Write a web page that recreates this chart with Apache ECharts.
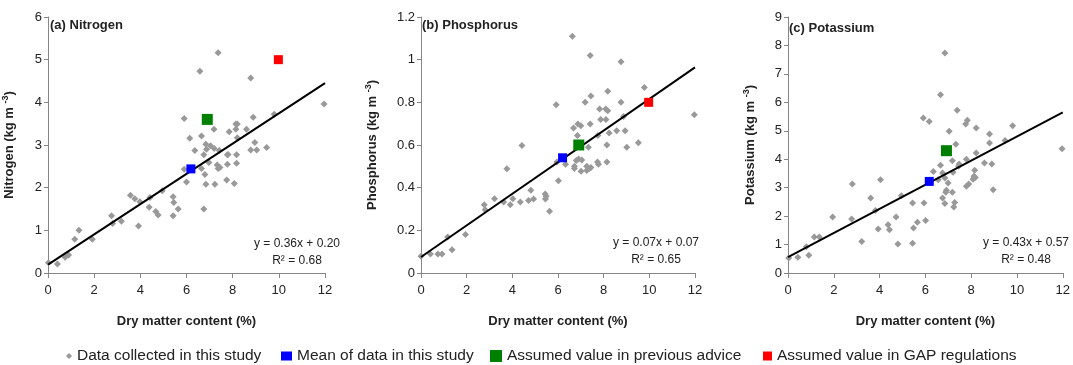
<!DOCTYPE html>
<html>
<head>
<meta charset="utf-8">
<script src="https://cdn.jsdelivr.net/npm/echarts@6/dist/echarts.min.js"></script>
<style>
    html, body {margin: 0; padding: 0; background: #fff;}
    #chart {width: 1073px; height: 365px;}
</style>
</head>
<body>
<div id="chart"></div>
<script>
// measured points, [dry matter %, kg m-3]
const nitrogenData = [[0.02, 0.24], [0.41, 0.21], [0.74, 0.37], [0.89, 0.42], [1.16, 0.79], [1.34, 1.0], [1.92, 0.79],
    [2.75, 1.34], [2.8, 1.16], [3.18, 1.21], [3.57, 1.82], [3.76, 1.74], [3.92, 1.1], [3.98, 1.67], [4.38, 1.54],
    [4.42, 1.77], [4.67, 1.44], [4.77, 1.36], [4.95, 1.93], [5.42, 1.79], [5.45, 1.65], [5.42, 1.34], [5.64, 1.5],
    [5.9, 3.62], [5.9, 2.43], [6.0, 2.13], [6.14, 3.16], [6.36, 2.87], [6.58, 4.73], [6.65, 3.21], [6.65, 2.45],
    [6.75, 2.77], [6.75, 1.5], [6.8, 2.31], [6.84, 3.02], [6.87, 2.9], [6.84, 2.08], [6.97, 2.59], [7.04, 2.98],
    [7.19, 3.37], [7.2, 2.92], [7.23, 2.08], [7.33, 2.53], [7.37, 5.16], [7.37, 2.45], [7.45, 2.47], [7.42, 2.87],
    [7.74, 2.18], [7.77, 2.77], [7.77, 2.55], [7.85, 3.31], [7.8, 2.78], [8.07, 2.1], [8.14, 3.49], [8.14, 3.37],
    [8.17, 2.77], [8.17, 2.57], [8.2, 3.17], [8.2, 3.49], [8.6, 3.37], [8.78, 4.57], [8.78, 2.88], [8.89, 3.65],
    [8.96, 3.06], [9.04, 2.88], [9.47, 2.94], [9.8, 3.72], [11.96, 3.96]];
const phosphorusData = [[0.0, 0.078], [0.41, 0.089], [0.74, 0.089], [0.92, 0.089], [1.17, 0.169], [1.36, 0.109],
    [1.95, 0.18], [2.77, 0.32], [2.81, 0.297], [3.22, 0.348], [3.62, 0.333], [3.76, 0.489], [3.91, 0.32],
    [4.02, 0.348], [4.35, 0.333], [4.42, 0.598], [4.71, 0.34], [4.81, 0.388], [4.93, 0.347], [5.44, 0.37],
    [5.45, 0.347], [5.48, 0.36], [5.63, 0.289], [5.92, 0.789], [5.95, 0.52], [6.02, 0.433], [6.33, 0.51],
    [6.63, 1.11], [6.68, 0.68], [6.72, 0.5], [6.72, 0.49], [6.8, 0.527], [6.85, 0.644], [6.87, 0.698], [6.9, 0.534],
    [7.0, 0.69], [7.01, 0.477], [7.04, 0.53], [7.19, 0.8], [7.26, 0.5], [7.26, 0.48], [7.33, 0.589], [7.41, 1.02],
    [7.41, 0.698], [7.44, 0.83], [7.44, 0.495], [7.38, 0.49], [7.73, 0.52], [7.77, 0.51], [7.75, 0.645],
    [7.82, 0.769], [7.87, 0.72], [8.09, 0.769], [8.1, 0.72], [8.14, 0.6], [8.14, 0.52], [8.18, 0.852], [8.18, 0.76],
    [8.24, 0.656], [8.57, 0.667], [8.76, 0.99], [8.76, 0.8], [8.87, 0.734], [8.94, 0.667], [9.01, 0.589],
    [9.52, 0.61], [9.78, 0.87], [11.97, 0.742]];
const potassiumData = [[0.03, 0.53], [0.43, 0.55], [0.8, 0.92], [0.91, 0.62], [1.15, 1.27], [1.37, 1.27], [1.95, 1.97],
    [2.78, 1.9], [2.81, 3.13], [3.22, 1.11], [3.61, 2.64], [3.82, 2.2], [3.94, 1.55], [4.04, 3.28], [4.37, 1.7],
    [4.43, 1.52], [4.72, 1.97], [4.8, 1.02], [4.95, 2.72], [5.44, 2.46], [5.44, 1.05], [5.48, 1.58], [5.65, 1.78],
    [5.91, 5.45], [5.94, 2.46], [6.01, 1.85], [6.17, 5.33], [6.35, 3.57], [6.56, 3.28], [6.66, 6.27], [6.66, 3.79],
    [6.75, 3.52], [6.75, 2.64], [6.85, 7.73], [6.85, 3.34], [6.85, 2.44], [6.89, 2.84], [6.92, 2.91], [6.99, 3.16],
    [7.04, 4.98], [7.18, 3.95], [7.18, 2.84], [7.21, 3.54], [7.24, 2.32], [7.28, 2.48], [7.33, 4.53], [7.39, 5.72],
    [7.45, 3.75], [7.47, 3.83], [7.76, 5.24], [7.79, 4.0], [7.79, 3.05], [7.83, 5.37], [7.89, 3.13], [8.08, 3.3],
    [8.12, 3.4], [8.15, 3.61], [8.18, 3.36], [8.22, 4.22], [8.22, 5.1], [8.58, 3.87], [8.8, 4.89], [8.8, 4.57],
    [8.9, 3.83], [8.96, 2.93], [9.48, 4.66], [9.81, 5.18], [11.97, 4.37]];

// mean / previous advice / GAP values
const meanValues = [[6.19, 2.44], [6.2, 0.54], [6.17, 3.22]];
const previousAdvice = [[6.9, 3.6], [6.91, 0.6], [6.92, 4.3]];
const gapValues = [[9.98, 5.0], [9.97, 0.8], null];

// fitted lines, ends
const fitLines = [
    [[0, 0.195], [12, 4.45]],
    [[0, 0.075], [12, 0.964]],
    [[0, 0.56], [12, 5.65]]
];
const fitEquations = ["y = 0.36x + 0.20", "y = 0.07x + 0.07", "y = 0.43x + 0.57"];
const fitR2 = ["R² = 0.68", "R² = 0.65", "R² = 0.48"];

const panelTitles = ["(a) Nitrogen", "(b) Phosphorus", "(c) Potassium"];
const yNames = ["Nitrogen", "Phosphorus", "Potassium"];
const yMax = [6, 1.2, 9];
const yStep = [1, 0.2, 1];
const xTicks = [0, 12, 2];

const legendNames = ["Data collected in this study", "Mean of data in this study",
    "Assumed value in previous advice", "Assumed value in GAP regulations"];

const font = "'Liberation Sans', Arial, sans-serif";
const axisGray = "#868686";
const textColor = "#222";

const panels = [
    {left: 48, width: 277, nameGap: 31, eqX: 297, eqY: 244, titleX: 50, titleY: 27},
    {left: 421, width: 274, nameGap: 41, eqX: 656, eqY: 243, titleX: 422, titleY: 27},
    {left: 788, width: 277, nameGap: 30, eqX: 1026, eqY: 243, titleX: 789, titleY: 30}
];

let grid = [], xAxis = [], yAxis = [], series = [], graphic = [];

panels.forEach((p, i) => {
    grid.push({left: p.left, top: 17, width: p.width, height: 256});
    xAxis.push({
        gridIndex: i, type: 'value', min: xTicks[0], max: xTicks[1], interval: xTicks[2],
        name: 'Dry matter content (%)', nameLocation: 'middle', nameGap: 42,
        nameTextStyle: {fontFamily: font, fontSize: 13, fontWeight: 'bold', color: textColor},
        axisLine: {lineStyle: {color: axisGray, width: 1}},
        axisTick: {show: true, length: 5, lineStyle: {color: axisGray}},
        axisLabel: {fontFamily: font, fontSize: 13, color: textColor, margin: 11},
        splitLine: {show: false}
    });
    yAxis.push({
        gridIndex: i, type: 'value', min: 0, max: yMax[i], interval: yStep[i],
        name: yNames[i] + ' (kg m {sup|-3})', nameLocation: 'middle', nameGap: p.nameGap,
        nameTextStyle: {
            fontFamily: font, fontSize: 13, fontWeight: 'bold', color: textColor, lineHeight: 16,
            rich: {sup: {fontFamily: font, fontSize: 9, fontWeight: 'bold', color: textColor, verticalAlign: 'top', lineHeight: 10}}
        },
        axisLine: {show: true, lineStyle: {color: axisGray, width: 1}},
        axisTick: {show: true, length: 4, lineStyle: {color: axisGray}},
        axisLabel: {fontFamily: font, fontSize: 13, color: textColor, margin: 6, formatter: v => String(+v.toFixed(1))},
        splitLine: {show: false}
    });

    series.push({
        name: legendNames[0], type: 'scatter', xAxisIndex: i, yAxisIndex: i,
        symbol: 'diamond', symbolSize: 7, itemStyle: {color: '#999999', opacity: 1}, z: 2,
        data: [nitrogenData, phosphorusData, potassiumData][i]
    });
    series.push({
        type: 'line', xAxisIndex: i, yAxisIndex: i, data: fitLines[i], showSymbol: false, silent: true,
        lineStyle: {color: '#000', width: 2}, z: 3
    });
    series.push({
        name: legendNames[1], type: 'scatter', xAxisIndex: i, yAxisIndex: i,
        symbol: 'rect', symbolSize: [9, 9], itemStyle: {color: '#0000ff', opacity: 1}, z: 4, data: [meanValues[i]]
    });
    series.push({
        name: legendNames[2], type: 'scatter', xAxisIndex: i, yAxisIndex: i,
        symbol: 'rect', symbolSize: [11, 11], itemStyle: {color: '#008000', opacity: 1}, z: 4, data: [previousAdvice[i]]
    });
    if (gapValues[i]) {
        series.push({
            name: legendNames[3], type: 'scatter', xAxisIndex: i, yAxisIndex: i,
            symbol: 'rect', symbolSize: [9, 9], itemStyle: {color: '#ff0000', opacity: 1}, z: 4, data: [gapValues[i]]
        });
    }

    graphic.push({
        type: 'text', left: p.titleX, top: p.titleY - 8,
        style: {text: panelTitles[i], font: 'bold 13px ' + font, fill: textColor}
    });
    graphic.push({
        type: 'text', x: p.eqX, y: p.eqY,
        style: {text: fitEquations[i], font: '12px ' + font, fill: textColor, align: 'center', verticalAlign: 'middle'}
    });
    graphic.push({
        type: 'text', x: p.eqX, y: p.eqY + 17,
        style: {text: fitR2[i], font: '12px ' + font, fill: textColor, align: 'center', verticalAlign: 'middle'}
    });
});

const legendItems = [
    {left: 66, icon: 'diamond', w: 6, h: 6},
    {left: 281, icon: 'rect', w: 11, h: 9},
    {left: 490, icon: 'rect', w: 12, h: 12},
    {left: 763, icon: 'rect', w: 9, h: 9}
];
const legend = legendItems.map((l, k) => ({
    left: l.left, top: 348, padding: 0, itemWidth: l.w, itemHeight: l.h, selectedMode: false,
    data: [{name: legendNames[k], icon: l.icon, itemStyle: {opacity: 1}}],
    textStyle: {fontFamily: font, fontSize: 15.5, color: textColor}
}));

const option = {
    animation: false,
    backgroundColor: '#fff',
    grid: grid,
    xAxis: xAxis,
    yAxis: yAxis,
    legend: legend,
    graphic: graphic,
    series: series
};

const chart = echarts.init(document.getElementById('chart'));
chart.setOption(option);
</script>
</body>
</html>
